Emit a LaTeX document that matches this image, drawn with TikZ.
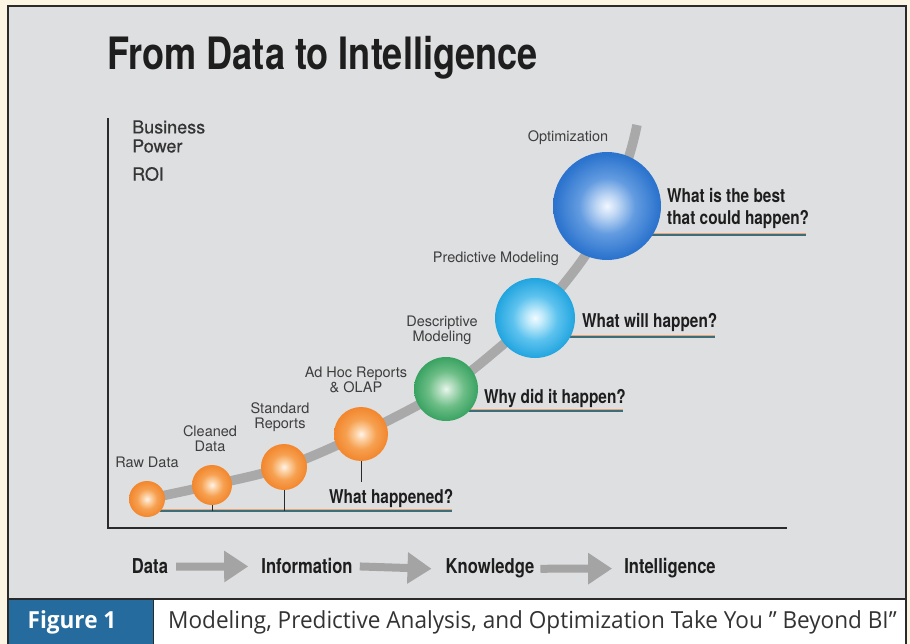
\documentclass[tikz,border=0pt]{standalone}
\usepackage{fontspec}
\setmainfont{TeX Gyre Heros}
\newfontfamily\hcond[FakeStretch=0.81]{TeX Gyre Heros}
\newfontfamily\hmed[FakeBold=0.5]{TeX Gyre Heros}
\newfontfamily\capfont[FakeStretch=0.96]{Open Sans}
\usetikzlibrary{arrows.meta}
\definecolor{cream}{HTML}{FDF5E3}
\definecolor{panel}{HTML}{DEDFE1}
\definecolor{frame}{HTML}{2A2A2A}
\definecolor{figblue}{HTML}{256B9E}
\definecolor{curvegray}{HTML}{A9A9A9}
\definecolor{arrowgray}{HTML}{A4A4A4}
\definecolor{teal}{HTML}{3D6E78}
\definecolor{ulorange}{HTML}{E9A57A}
\definecolor{darktext}{HTML}{1E1E1E}
\definecolor{lbltext}{HTML}{3E3E3E}
% orange ball
\definecolor{obA}{HTML}{FFF4EA}\definecolor{obB}{HTML}{FDD3A8}\definecolor{obC}{HTML}{F6A050}
\definecolor{obD}{HTML}{F2842A}\definecolor{obE}{HTML}{EC7014}\definecolor{obF}{HTML}{EE7A20}\definecolor{obG}{HTML}{F6A868}
% green ball
\definecolor{gbA}{HTML}{EAF6EE}\definecolor{gbB}{HTML}{B8E0C4}\definecolor{gbC}{HTML}{6CBD86}
\definecolor{gbD}{HTML}{34A05E}\definecolor{gbE}{HTML}{1E8C4A}\definecolor{gbF}{HTML}{28914E}\definecolor{gbG}{HTML}{B8C070}
% light blue ball
\definecolor{lbA}{HTML}{F2FBFF}\definecolor{lbB}{HTML}{C0EAFA}\definecolor{lbC}{HTML}{5CC2EE}
\definecolor{lbD}{HTML}{1CA2DE}\definecolor{lbE}{HTML}{0A8ACB}\definecolor{lbF}{HTML}{0C8CCD}\definecolor{lbG}{HTML}{60B8E4}
% dark blue ball
\definecolor{dbA}{HTML}{F2F7FF}\definecolor{dbB}{HTML}{BFD7F4}\definecolor{dbC}{HTML}{629BE0}
\definecolor{dbD}{HTML}{2C74CE}\definecolor{dbE}{HTML}{175FBE}\definecolor{dbF}{HTML}{1254AE}\definecolor{dbG}{HTML}{4A82D2}
\pgfdeclareradialshading{orangeball}{\pgfpoint{0bp}{0bp}}{color(0bp)=(obA); color(5bp)=(obB); color(14bp)=(obC); color(26bp)=(obD); color(40bp)=(obE); color(48bp)=(obF); color(50bp)=(obG)}
\pgfdeclareradialshading{greenball}{\pgfpoint{0bp}{0bp}}{color(0bp)=(gbA); color(5bp)=(gbB); color(14bp)=(gbC); color(26bp)=(gbD); color(40bp)=(gbE); color(48bp)=(gbF); color(50bp)=(gbG)}
\pgfdeclareradialshading{lblueball}{\pgfpoint{0bp}{0bp}}{color(0bp)=(lbA); color(5bp)=(lbB); color(14bp)=(lbC); color(26bp)=(lbD); color(40bp)=(lbE); color(48bp)=(lbF); color(50bp)=(lbG)}
\pgfdeclareradialshading{dblueball}{\pgfpoint{0bp}{0bp}}{color(0bp)=(dbA); color(5bp)=(dbB); color(13bp)=(dbC); color(24bp)=(dbD); color(38bp)=(dbE); color(48bp)=(dbF); color(50bp)=(dbG)}
\tikzset{
  ballnode/.style={circle, inner sep=0pt, draw=none, shade},
  curveline/.style={draw=curvegray, line width=9.5pt},
  axisline/.style={draw=frame, line width=1.8pt},
  uline/.style={draw=teal, line width=1.5pt},
  olineo/.style={draw=ulorange, line width=0.7pt},
  tickline/.style={draw=frame, line width=1pt},
  lbl/.style={font=\fontsize{14.5}{14.5}\selectfont, text=lbltext, align=center, inner sep=0pt},
  question/.style={font=\hcond\bfseries\fontsize{19}{22}\selectfont, text=darktext, anchor=base west, inner sep=0pt},
  flowlbl/.style={font=\hcond\bfseries\fontsize{20.5}{22}\selectfont, text=darktext, inner sep=0pt, anchor=base},
  axlbl/.style={font=\hmed\fontsize{18}{19}\selectfont, text=darktext!90, anchor=west, align=left, inner sep=0pt},
  blockarrow/.style={draw=arrowgray, line width=8pt, -{Triangle[width=30pt,length=24pt]}},
}
\begin{document}
\begin{tikzpicture}[x=1pt,y=-1pt]
\useasboundingbox (0,0) rectangle (910,644);
\fill[cream] (0,0) rectangle (910,644);
\draw[frame, line width=1.2pt, fill=panel] (8,6) rectangle (906,650);
% caption bar
\fill[figblue] (8,599) rectangle (153,644);
\fill[white] (153,599) rectangle (906,644);
\draw[frame, line width=1.2pt] (8,599) -- (906,599);
\draw[frame, line width=1pt] (153,599) -- (153,644);
\draw[frame, line width=1.2pt] (8,599) -- (8,644) (906,599) -- (906,644);
\node[font=\capfont\bfseries\fontsize{23.5}{26}\selectfont, text=white, inner sep=0pt] (figlabel) at (72,622) {Figure 1};
\node[font=\capfont\fontsize{23.5}{26}\selectfont, text=black!80, anchor=west, inner sep=0pt] (captext) at (168,622) {Modeling, Predictive Analysis, and Optimization Take You ” Beyond BI”};
% title
\node[font=\hcond\bfseries\fontsize{44.6}{48}\selectfont, text=darktext, anchor=base west, inner sep=0pt] (title) at (107,70) {From Data to Intelligence};
% axes
\draw[axisline] (108,118) -- (108,528) -- (787,528);
\node[axlbl] (bp) at (132,136.5) {Business\\Power};
\node[axlbl] (roi) at (132,174) {ROI};
% ball positions
\coordinate (pRaw) at (147,499);
\coordinate (pClean) at (212,485);
\coordinate (pStd) at (284,467);
\coordinate (pAdhoc) at (361,434);
\coordinate (pDesc) at (446,389);
\coordinate (pPred) at (535,318);
\coordinate (pOpt) at (607,206);
\coordinate (topend) at (637,125);
% curve
\draw[curveline] plot[smooth, tension=0.55] coordinates {(pRaw) (pClean) (pStd) (pAdhoc) (pDesc) (505,343) (540,312) (585,256) (612,205) (630,153) (topend)};
% underlines
\coordinate (u1a) at (160,511); \coordinate (u1b) at (452,511);
\coordinate (u2a) at (469,411); \coordinate (u2b) at (623,411);
\coordinate (u3a) at (570,337); \coordinate (u3b) at (715,337);
\coordinate (u4a) at (652,235); \coordinate (u4b) at (806,235);
\foreach \a/\b in {u1a/u1b,u2a/u2b,u3a/u3b,u4a/u4b}{
  \draw[olineo] ([yshift=1.2pt]\a) -- ([yshift=1.2pt]\b);
  \draw[uline] (\a) -- (\b);
}
% balls
\node[ballnode, minimum size=36pt, shading=orangeball] (raw) at (pRaw) {};
\node[ballnode, minimum size=40pt, shading=orangeball] (clean) at (pClean) {};
\node[ballnode, minimum size=46pt, shading=orangeball] (std) at (pStd) {};
\node[ballnode, minimum size=54pt, shading=orangeball] (adhoc) at (pAdhoc) {};
\node[ballnode, minimum size=64pt, shading=greenball] (desc) at (pDesc) {};
\node[ballnode, minimum size=80pt, shading=lblueball] (pred) at (pPred) {};
\node[ballnode, minimum size=108pt, shading=dblueball] (opt) at (pOpt) {};
% ticks
\coordinate (whtop) at (361,482);
\draw[tickline] (clean.south) -- (clean.south |- u1a);
\draw[tickline] (std.south) -- (std.south |- u1a);
\draw[tickline] (adhoc.south) -- (adhoc.south |- whtop);
% stage labels
\node[lbl] (lraw) at (147,462) {Raw Data};
\node[lbl] (lclean) at (210,438.5) {Cleaned\\Data};
\node[lbl] (lstd) at (280,417) {Standard\\Reports};
\node[lbl] (ladhoc) at (356,380) {Ad Hoc Reports\\\& OLAP};
\node[lbl] (ldesc) at (442,330.5) {Descriptive\\Modeling};
\node[lbl] (lpred) at (496,259) {Predictive Modeling};
\node[lbl] (lopt) at (568,138) {Optimization};
% questions
\node[question] (q1) at (329,503) {What happened?};
\node[question] (q2) at (484,403) {Why did it happen?};
\node[question] (q3) at (582,327) {What will happen?};
\node[question] (q4) at (667,203) {What is the best};
\node[question] (q4b) at (667,225) {that could happen?};
% flow row
\node[flowlbl] (fdata) at (150,573) {Data};
\node[flowlbl] (finfo) at (307,573) {Information};
\node[flowlbl] (fknow) at (490,573) {Knowledge};
\node[flowlbl] (fintel) at (670,573) {Intelligence};
\draw[blockarrow] ([xshift=8pt,yshift=-1pt]fdata.east) -- ([xshift=-13pt,yshift=-1pt]finfo.west);
\draw[blockarrow] ([xshift=7pt,yshift=-1pt]finfo.east) -- ([xshift=-14pt,yshift=-1pt]fknow.west);
\draw[blockarrow] ([xshift=6pt,yshift=-1pt]fknow.east) -- ([xshift=-12pt,yshift=-1pt]fintel.west);
\end{tikzpicture}
\end{document}
